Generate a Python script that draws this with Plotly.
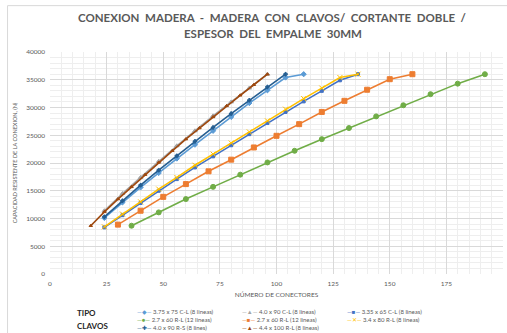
import plotly.graph_objects as go

# Número de conectores (eje X) y capacidad resistente en N (eje Y) por tipo de clavo
x_375_75_cl = [24, 32, 40, 48, 56, 64, 72, 80, 88, 96, 104, 112]
y_375_75_cl = [10100, 12900, 15600, 18200, 20800, 23300, 25800, 28300, 30800, 33100, 35400, 36000]

x_40_90_cl = [24, 32, 40, 48, 56, 64, 72, 80, 88, 96]
y_40_90_cl = [11400, 14500, 17400, 20300, 23100, 25800, 28500, 31000, 33500, 36000]

x_335_65_cl = [24, 32, 40, 48, 56, 64, 72, 80, 88, 96, 104, 112, 120, 128, 136]
y_335_65_cl = [8400, 10600, 12800, 15000, 17100, 19200, 21200, 23200, 25200, 27200,
               29200, 31100, 33000, 34900, 36000]

x_27_60_rl_a = [36, 48, 60, 72, 84, 96, 108, 120, 132, 144, 156, 168, 180, 192]
y_27_60_rl_a = [8700, 11100, 13500, 15700, 17900, 20100, 22200, 24300, 26300, 28400,
                30400, 32400, 34300, 36000]

x_27_60_rl_b = [30, 40, 50, 60, 70, 80, 90, 100, 110, 120, 130, 140, 150, 160]
y_27_60_rl_b = [8900, 11400, 13900, 16200, 18500, 20600, 22800, 24900, 27000, 29200,
                31200, 33200, 35100, 36000]

x_34_80_rl = [24, 32, 40, 48, 56, 64, 72, 80, 88, 96, 104, 112, 120, 128, 136]
y_34_80_rl = [8500, 10800, 13000, 15300, 17400, 19600, 21600, 23600, 25600, 27600,
              29700, 31600, 33500, 35400, 36000]

x_40_90_rs = [24, 32, 40, 48, 56, 64, 72, 80, 88, 96, 104]
y_40_90_rs = [10300, 13200, 16000, 18700, 21300, 23900, 26400, 28900, 31300, 33700, 36000]

x_44_100_rl = [18, 24, 30, 36, 42, 48, 54, 60, 66, 72, 78, 84, 90, 96]
y_44_100_rl = [8700, 11200, 13500, 15700, 17900, 20100, 22200, 24300, 26300, 28300,
               30300, 32200, 34100, 36000]

series_names = [
    "3.75 x 75 C-L (8 lineas)",
    "4.0 x 90 C-L (8 lineas)",
    "3.35 x 65 C-L (8 lineas)",
    "2.7 x 60 R-L (12 lineas)",
    "2.7 x 60 R-L (12 lineas)",
    "3.4 x 80 R-L (8 lineas)",
    "4.0 x 90 R-S (8 lines)",
    "4.4 x 100 R-L (8 lineas)",
]
series_x = [x_375_75_cl, x_40_90_cl, x_335_65_cl, x_27_60_rl_a,
            x_27_60_rl_b, x_34_80_rl, x_40_90_rs, x_44_100_rl]
series_y = [y_375_75_cl, y_40_90_cl, y_335_65_cl, y_27_60_rl_a,
            y_27_60_rl_b, y_34_80_rl, y_40_90_rs, y_44_100_rl]

colors = ["#5B9BD5", "#A5A5A5", "#4472C4", "#70AD47",
          "#ED7D31", "#FFC000", "#255E91", "#9E480E"]
symbols = ["diamond", "triangle-up", "square", "circle",
           "square", "x-thin-open", "cross", "triangle-up"]
sizes = [4, 4, 3, 5, 5, 5, 3, 3]
key_glyphs = ["◆", "▲", "■", "●", "■", "✕", "✚", "▲"]

# Draw order: lower curves first so the upper ones sit on top
draw_order = [3, 4, 2, 5, 0, 6, 1, 7]

W, H = 507, 333
ML, MR, MT, MB = 49.5, 4, 52.3, 59

fig = go.Figure()
for i in draw_order:
    fig.add_trace(go.Scatter(
        x=series_x[i], y=series_y[i], name=series_names[i],
        mode="lines+markers",
        line=dict(color=colors[i], width=1.6),
        marker=dict(symbol=symbols[i], size=sizes[i], color=colors[i],
                    line=dict(color=colors[i], width=1)),
        showlegend=False,
    ))

pw = W - ML - MR
ph = H - MT - MB


def px_x(px):
    return (px - ML) / pw


def px_y(py):
    return (H - MB - py) / ph


txt = "#595959"
axis_font = dict(family="Lato", size=6.5, color=txt)

annotations = [
    dict(text="<b>CONEXION  MADERA  -  MADERA  CON  CLAVOS/  CORTANTE  DOBLE  /</b>",
         x=px_x(272.5), y=px_y(18), xref="paper", yref="paper",
         xanchor="center", yanchor="middle", showarrow=False,
         font=dict(family="Lato", size=11.5, color=txt)),
    dict(text="<b>ESPESOR  DEL  EMPALME  30MM</b>",
         x=px_x(272.5), y=px_y(33.5), xref="paper", yref="paper",
         xanchor="center", yanchor="middle", showarrow=False,
         font=dict(family="Lato", size=11.5, color=txt)),
    dict(text="<b>TIPO</b>", x=px_x(75), y=px_y(313), xref="paper", yref="paper",
         xanchor="left", yanchor="middle", showarrow=False,
         font=dict(family="Lato", size=8, color="#262626")),
    dict(text="<b>CLAVOS</b>", x=px_x(75), y=px_y(325.5), xref="paper", yref="paper",
         xanchor="left", yanchor="middle", showarrow=False,
         font=dict(family="Lato", size=8, color="#262626")),
]

# Legend entries laid out in three columns, row by row
col_px = [135, 240, 345]
row_px = [311.5, 319.3, 327.3]
for k, name in enumerate(series_names):
    c = colors[k]
    key = f'<span style="color:{c}">—{key_glyphs[k]}—</span> {name}'
    annotations.append(dict(
        text=key, x=px_x(col_px[k % 3]), y=px_y(row_px[k // 3]),
        xref="paper", yref="paper", xanchor="left", yanchor="middle",
        showarrow=False, font=dict(family="Lato", size=6, color=txt)))

fig.update_layout(
    width=W, height=H,
    margin=dict(l=ML, r=MR, t=MT, b=MB, pad=0),
    paper_bgcolor="white", plot_bgcolor="white",
    showlegend=False,
    annotations=annotations,
    shapes=[dict(type="rect", xref="paper", yref="paper",
                 x0=px_x(7), x1=px_x(560), y0=px_y(400), y1=px_y(6),
                 line=dict(color="#D9D9D9", width=1), layer="below")],
    xaxis=dict(
        range=[0, 200], dtick=25, tick0=0,
        showgrid=True, gridcolor="#D9D9D9", gridwidth=1,
        minor=dict(dtick=5, showgrid=True, gridcolor="#EEEEEE", gridwidth=1),
        zeroline=False, showline=False, ticks="",
        tickfont=axis_font, ticklabelstandoff=4,
        title=dict(text="NÚMERO DE CONECTORES", font=axis_font, standoff=6),
    ),
    yaxis=dict(
        range=[0, 40000], dtick=5000, tick0=0, tickformat="d",
        showgrid=True, gridcolor="#D9D9D9", gridwidth=1,
        minor=dict(dtick=1000, showgrid=True, gridcolor="#EEEEEE", gridwidth=1),
        zeroline=False, showline=False, ticks="",
        tickfont=axis_font, ticklabelstandoff=4,
        title=dict(text="CAPACIDAD RESISTENTE DE LA CONEXION, (N)",
                   font=dict(family="Lato", size=5.5, color=txt), standoff=8),
    ),
)

fig.write_html("out.html")
